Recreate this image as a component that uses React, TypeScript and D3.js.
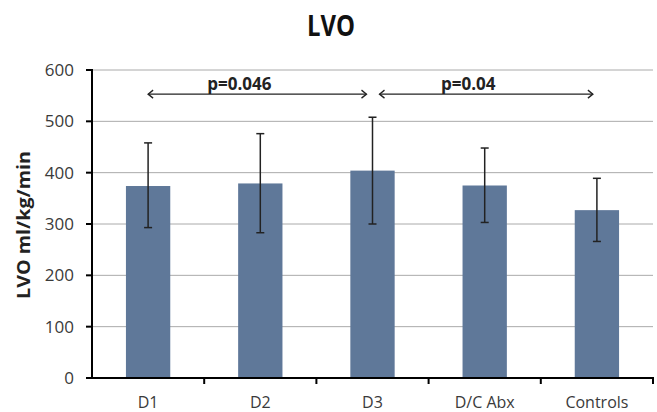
import React from "react";
import * as d3 from "d3";

const categories = ["D1", "D2", "D3", "D/C Abx", "Controls"];
const means = [374, 379, 404, 375, 327];
const errUpper = [458, 476, 508, 448, 389];
const errLower = [293, 283, 300, 303, 266];
const yTicks = [0, 100, 200, 300, 400, 500, 600];
const comparisons = [
  { from: "D1", to: "D3", label: "p=0.046", value: 553 },
  { from: "D3", to: "Controls", label: "p=0.04", value: 553 },
];

const W = 657, H = 412;
const M = { left: 92, right: 4, top: 70, bottom: 34 };

export default function App() {
  const x = d3.scaleBand<string>().domain(categories).range([M.left, W - M.right]).padding(0);
  const y = d3.scaleLinear().domain([0, 600]).range([H - M.bottom, M.top]);
  const step = x.bandwidth();
  const barW = step * 0.395;
  const cx = (c: string) => (x(c) as number) + step / 2;
  const cap = 4;
  const font = "Open Sans, Liberation Sans, sans-serif";
  const grey = "#3a3a3a";
  return (
    <svg width={W} height={H} style={{ position: "absolute", left: 0, top: 0, background: "#fff" }}>
      <text x={331} y={36} textAnchor="middle" fontFamily={font} fontWeight="bold" fontSize={29}
        textLength={48} lengthAdjust="spacingAndGlyphs" fill="#111">LVO</text>
      {yTicks.filter(t => t > 0).map(t => (
        <line key={"g" + t} x1={M.left} x2={W - M.right} y1={y(t)} y2={y(t)} stroke="#aaa" strokeWidth={1} />
      ))}
      {categories.map((c, i) => (
        <rect key={c} x={cx(c) - barW / 2} width={barW} y={y(means[i])} height={y(0) - y(means[i])} fill="#5f7899" />
      ))}
      {categories.map((c, i) => (
        <g key={"e" + c} stroke="#222" strokeWidth={1.5}>
          <line x1={cx(c)} x2={cx(c)} y1={y(errUpper[i])} y2={y(errLower[i])} />
          <line x1={cx(c) - cap} x2={cx(c) + cap} y1={y(errUpper[i])} y2={y(errUpper[i])} />
          <line x1={cx(c) - cap} x2={cx(c) + cap} y1={y(errLower[i])} y2={y(errLower[i])} />
        </g>
      ))}
      {/* axes */}
      <line x1={M.left} x2={M.left} y1={y(600) - 1} y2={y(0) + 1} stroke="#000" strokeWidth={2} />
      <line x1={M.left} x2={W - M.right + 1} y1={y(0)} y2={y(0)} stroke="#000" strokeWidth={2} />
      {yTicks.map(t => (
        <g key={"t" + t}>
          <line x1={M.left - 6} x2={M.left} y1={y(t)} y2={y(t)} stroke="#000" strokeWidth={2} />
          <text x={M.left - 18} y={y(t)} dy="0.36em" textAnchor="end" fontFamily={font} fontSize={17} fill={grey}>{t}</text>
        </g>
      ))}
      {categories.map(c => (
        <line key={"xt" + c} x1={(x(c) as number) + step} x2={(x(c) as number) + step} y1={y(0)} y2={y(0) + 6} stroke="#000" strokeWidth={2} />
      ))}
      {categories.map(c => (
        <text key={"xl" + c} x={cx(c)} y={408} textAnchor="middle" fontFamily={font} fontSize={16} fill={grey}>{c}</text>
      ))}
      <text transform={`translate(30,${(y(0) + y(600)) / 2 + 1}) rotate(-90)`} textAnchor="middle" fontFamily={font}
        fontWeight="bold" fontSize={17} textLength={148} lengthAdjust="spacingAndGlyphs" fill="#222">LVO ml/kg/min</text>
      {comparisons.map((cmp, i) => {
        const x1 = cx(cmp.from) + (i === 0 ? 0 : 7);
        const x2 = cx(cmp.to) - (i === 0 ? 6 : 4);
        const yy = y(cmp.value);
        const a = 5;
        return (
          <g key={"c" + i}>
            <g stroke="#222" strokeWidth={1.3} fill="none">
              <line x1={x1} x2={x2} y1={yy} y2={yy} />
              <polyline points={`${x1 + a},${yy - a * 0.8} ${x1},${yy} ${x1 + a},${yy + a * 0.8}`} />
              <polyline points={`${x2 - a},${yy - a * 0.8} ${x2},${yy} ${x2 - a},${yy + a * 0.8}`} />
            </g>
            <text x={(x1 + x2) / 2 - 18} y={yy - 4} textAnchor="middle" fontFamily={font} fontWeight="bold"
              fontSize={17} fill="#222">{cmp.label}</text>
          </g>
        );
      })}
    </svg>
  );
}
